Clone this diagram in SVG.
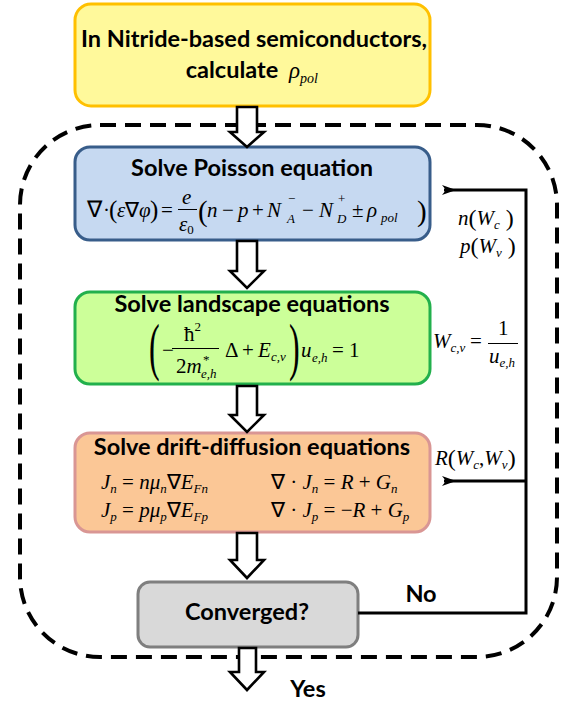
<svg xmlns="http://www.w3.org/2000/svg" width="572" height="709" viewBox="0 0 572 709">
<style>
.t{font-family:Lato,"Open Sans","Liberation Sans",sans-serif;font-weight:bold;font-size:23.5px;fill:#000;text-anchor:middle}
.m{font-family:"Liberation Serif","Times New Roman",serif;font-size:21px;fill:#000}
.i{font-style:italic}
.s{font-size:13px}
.box{stroke-width:3}
.harrow{fill:#fff;stroke:#000;stroke-width:2.6;stroke-linejoin:miter}
.conn{fill:none;stroke:#000;stroke-width:3}
.bar{stroke:#000;stroke-width:1}
</style>
<defs>
<marker id="ah" markerWidth="14" markerHeight="10" refX="12" refY="5" orient="auto" markerUnits="userSpaceOnUse">
<path d="M14,0 L0,5 L14,10 L10,5 Z" fill="#000"/>
</marker>
</defs>

<!-- dashed loop region -->
<rect x="20" y="125" width="537" height="532" rx="80" ry="80" fill="none" stroke="#000" stroke-width="4" stroke-dasharray="16 9"/>

<g id="start">
<rect class="box" x="75" y="4" width="355" height="102" rx="16" fill="#FFF99B" stroke="#FFC000"/>
<text class="t" x="254" y="47">In Nitride-based semiconductors,</text>
<text class="t" x="232" y="78">calculate</text>
<text class="m i" x="289" y="78" style="font-size:23px">ρ<tspan class="s" dy="5" style="font-size:14px">pol</tspan></text>
</g>

<g id="poisson">
<rect class="box" x="75" y="147" width="355" height="93" rx="15" fill="#C6D9F1" stroke="#385D8A"/>
<text class="t" x="252" y="176">Solve Poisson equation</text>
<text class="m" x="87" y="217" style="font-size:23px">∇</text>
<text class="m" x="103" y="217">·</text>
<text class="m" x="109" y="218" style="font-size:25px">(</text>
<text class="m i" x="117" y="217">ε</text>
<text class="m" x="125" y="217">∇</text>
<text class="m i" x="139" y="217">φ</text>
<text class="m" x="150" y="218" style="font-size:25px">)</text>
<text class="m" x="161" y="217">=</text>
<text class="m i" x="182" y="204">e</text>
<line class="bar" x1="178" y1="209.5" x2="197" y2="209.5"/>
<text class="m i" x="179" y="231">ε<tspan class="s" style="font-style:normal" dy="3">0</tspan></text>
<text class="m" x="198" y="221" style="font-size:29px">(</text>
<text class="m i" x="207" y="217">n</text>
<text class="m" x="222" y="217">−</text>
<text class="m i" x="238" y="217">p</text>
<text class="m" x="252" y="217">+</text>
<text class="m i" x="267" y="217">N</text>
<text class="m s" x="288" y="203">−</text>
<text class="m s i" x="287" y="223">A</text>
<text class="m" x="302" y="217">−</text>
<text class="m i" x="319" y="217">N</text>
<text class="m s" x="338" y="203">+</text>
<text class="m s i" x="337" y="223">D</text>
<text class="m" x="352" y="217">±</text>
<text class="m i" x="367" y="217">ρ</text>
<text class="m s i" x="381" y="222">pol</text>
<text class="m" x="417" y="221" style="font-size:29px">)</text>
</g>

<g id="landscape">
<rect class="box" x="75" y="292" width="355" height="92" rx="15" fill="#CCFF99" stroke="#22B04C"/>
<text class="t" x="252" y="312">Solve landscape equations</text>
<text class="m" x="0" y="0" style="font-size:64px" transform="translate(149 368) scale(0.5 1)">(</text>
<text class="m" x="162" y="357">−</text>
<text class="m" x="184" y="341">ħ<tspan class="s" dy="-10">2</tspan></text>
<line class="bar" x1="172" y1="348.5" x2="219" y2="348.5"/>
<text class="m" x="176" y="373">2<tspan class="i">m</tspan></text>
<text class="m s" x="203" y="364">*</text>
<text class="m s i" x="201" y="378">e,h</text>
<text class="m" x="225" y="357">Δ</text>
<text class="m" x="242" y="357">+</text>
<text class="m i" x="258" y="357">E</text>
<text class="m s i" x="271" y="361">c,v</text>
<text class="m" x="0" y="0" style="font-size:64px" transform="translate(289 368) scale(0.5 1)">)</text>
<text class="m i" x="301" y="357">u</text>
<text class="m s i" x="312" y="362">e,h</text>
<text class="m" x="332" y="357">= 1</text>
</g>

<g id="driftdiffusion">
<rect class="box" x="75" y="433" width="355" height="99" rx="15" fill="#FBC796" stroke="#D99694"/>
<text class="t" x="252" y="455">Solve drift-diffusion equations</text>
<text class="m i" x="101" y="489">J<tspan class="s" dy="4">n</tspan><tspan style="font-style:normal" dy="-4"> = </tspan>n<tspan>μ</tspan><tspan class="s" dy="4">n</tspan><tspan style="font-style:normal" dy="-4">∇</tspan>E<tspan class="s" dy="4">Fn</tspan></text>
<text class="m" x="271" y="489">∇ · <tspan class="i">J</tspan><tspan class="s i" dy="4">n</tspan><tspan dy="-4"> = </tspan><tspan class="i">R</tspan> + <tspan class="i">G</tspan><tspan class="s i" dy="4">n</tspan></text>
<text class="m i" x="101" y="517">J<tspan class="s" dy="4">p</tspan><tspan style="font-style:normal" dy="-4"> = </tspan>p<tspan>μ</tspan><tspan class="s" dy="4">p</tspan><tspan style="font-style:normal" dy="-4">∇</tspan>E<tspan class="s" dy="4">Fp</tspan></text>
<text class="m" x="271" y="517">∇ · <tspan class="i">J</tspan><tspan class="s i" dy="4">p</tspan><tspan dy="-4"> = −</tspan><tspan class="i">R</tspan> + <tspan class="i">G</tspan><tspan class="s i" dy="4">p</tspan></text>
</g>

<g id="converged">
<rect class="box" x="138" y="582" width="220" height="65" rx="12" fill="#D9D9D9" stroke="#7F7F7F"/>
<text class="t" x="247" y="620">Converged?</text>
</g>

<g id="connectors">
<polygon class="harrow" points="237,107 257,107 257,132 264,132 247,147 230,132 237,132"/>
<polygon class="harrow" points="237,241 257,241 257,271 264,271 247,288 230,271 237,271"/>
<polygon class="harrow" points="237,386 257,386 257,415 264,415 247,432 230,415 237,415"/>
<polygon class="harrow" points="237,533 257,533 257,560 264,560 247,578 230,560 237,560"/>
<polygon class="harrow" points="239,648 256,648 256,672 264,672 247,690 230,672 239,672"/>
<path class="conn" d="M358,613 H526 V190 H444" marker-end="url(#ah)"/>
<path class="conn" d="M526,481 H444" marker-end="url(#ah)"/>
<text class="t" x="421" y="602">No</text>
<text class="t" x="308" y="697">Yes</text>
<text class="m i" x="458" y="225">n<tspan style="font-style:normal;font-size:24px" dy="1">(</tspan><tspan dy="-1">W</tspan><tspan class="s" dy="4">c</tspan><tspan style="font-style:normal;font-size:24px" dy="-3"> )</tspan></text>
<text class="m i" x="460" y="253">p<tspan style="font-style:normal;font-size:24px" dy="1">(</tspan><tspan dy="-1">W</tspan><tspan class="s" dy="4">v</tspan><tspan style="font-style:normal;font-size:24px" dy="-3"> )</tspan></text>
<text class="m i" x="433" y="348">W<tspan class="s" dy="4">c,v</tspan></text>
<text class="m" x="470" y="348">=</text>
<text class="m" x="498" y="335">1</text>
<line class="bar" x1="488" y1="343.5" x2="518" y2="343.5"/>
<text class="m i" x="489" y="363">u<tspan class="s" dy="4">e,h</tspan></text>
<text class="m i" x="435" y="465">R<tspan style="font-style:normal;font-size:24px" dy="1">(</tspan><tspan dy="-1">W</tspan><tspan class="s" dy="4">c</tspan><tspan style="font-style:normal" dy="-4">,</tspan>W<tspan class="s" dy="4">v</tspan><tspan style="font-style:normal;font-size:24px" dy="-3">)</tspan></text>
</g>
</svg>
